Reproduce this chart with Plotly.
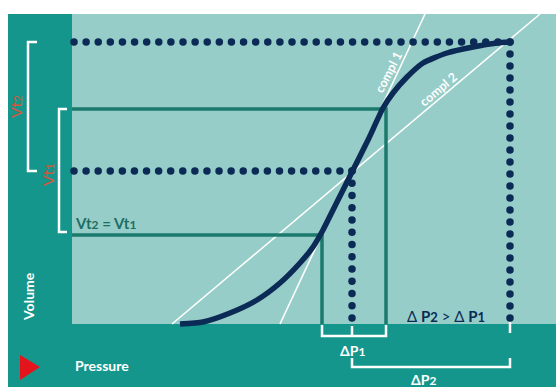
import numpy as np
import plotly.graph_objects as go

# ---- data (Pressure P, Volume V in chart units) ----
curve_p = [108, 131, 158, 185, 208, 228, 241, 251, 265, 280, 296, 311, 321, 335, 351, 375, 401, 425, 438]
curve_v = [0, 2, 11, 24, 41, 61, 77, 94, 122, 152, 184, 216, 231, 247, 261, 271, 277, 281, 282]

# Vt1: solid guides (pressure at each volume level)
vt1_p = [250, 314]
vt1_v = [89, 215]
# Vt2: dotted guides
vt2_p = [280, 438]
vt2_v = [153, 282]

# compliance (tangent) lines
compl1_p = [208, 353]
compl1_v = [0, 310]
compl2_p = [100, 468]
compl2_v = [0, 310]

X_RANGE = [-72, 484]
Y_RANGE = [-63, 324]
PANEL_TOP = 310

NAVY = "#0b2a55"
GREEN = "#1b7a6c"
LIGHT = "#96cdc8"
DARK = "#14968c"
RED = "#e3141b"
ORANGE = "#d4563a"
FONT = "Lato"

fig = go.Figure()


def dots(p0, v0, p1, v1, step=12.1):
    n = int(round(np.hypot(p1 - p0, v1 - v0) / step)) + 1
    return np.linspace(p0, p1, n), np.linspace(v0, v1, n)


# tangent lines
for xs, ys in [(compl1_p, compl1_v), (compl2_p, compl2_v)]:
    fig.add_trace(go.Scatter(x=xs, y=ys, mode="lines",
                             line=dict(color="white", width=1.6)))

# solid Vt1 guides
for p, v in zip(vt1_p, vt1_v):
    fig.add_trace(go.Scatter(x=[0, p, p], y=[v, v, 0], mode="lines",
                             line=dict(color=GREEN, width=3.5)))

# dotted Vt2 guides
for p, v in zip(vt2_p, vt2_v):
    hx, hy = dots(2, v, p, v)
    vx, vy = dots(p, v, p, 6)
    fig.add_trace(go.Scatter(x=np.concatenate([hx, vx]), y=np.concatenate([hy, vy]),
                             mode="markers", marker=dict(color=NAVY, size=7.5)))

# pressure-volume curve
fig.add_trace(go.Scatter(x=curve_p, y=curve_v, mode="lines",
                         line=dict(color=NAVY, width=5.5, shape="spline", smoothing=0.6)))

# brackets (white)
W = dict(color="white", width=2.5)
brackets = [
    ([-35, -44, -44, -35], [vt2_v[1], vt2_v[1], vt2_v[0], vt2_v[0]]),
    ([-5, -13, -13, -5], [vt1_v[1], vt1_v[1], vt1_v[0] + 3, vt1_v[0] + 3]),
    ([vt1_p[0], vt1_p[0], vt1_p[1], vt1_p[1]], [-1, -12, -12, -1]),
    ([vt2_p[0], vt2_p[0]], [-2, -12]),
    ([vt2_p[0], vt2_p[0], vt2_p[1], vt2_p[1]], [-34, -43, -43, -34]),
    ([vt2_p[1], vt2_p[1]], [2, -9]),
]
for xs, ys in brackets:
    fig.add_trace(go.Scatter(x=xs, y=ys, mode="lines", line=W))

shapes = [
    dict(type="rect", x0=-64, x1=X_RANGE[1], y0=Y_RANGE[0], y1=PANEL_TOP,
         fillcolor=DARK, line_width=0, layer="below"),
    dict(type="rect", x0=0, x1=X_RANGE[1], y0=0, y1=PANEL_TOP,
         fillcolor=LIGHT, line_width=0, layer="below"),
    dict(type="path", path="M -52,-31 L -32,-43 L -52,-56 Z",
         fillcolor=RED, line_width=0, layer="above"),
]


def sm(t, s):
    return f"<span style='font-size:{s}px'>{t}</span>"


ann = [
    dict(x=-57, y=217, text="Vt" + sm("2", 12), textangle=-90, font=dict(color=ORANGE, size=16)),
    dict(x=-25, y=149, text="Vt" + sm("1", 12), textangle=-90, font=dict(color=ORANGE, size=16)),
    dict(x=-44, y=27, text="<b>Volume</b>", textangle=-90, font=dict(color="white", size=14)),
    dict(x=1, y=-41, text="<b>Pressure</b>", xanchor="left", font=dict(color="white", size=14)),
    dict(x=1, y=101, text="<b>Vt" + sm("2", 12) + " = Vt" + sm("1", 12) + "</b>", xanchor="left",
         font=dict(color="#1d6e62", size=15)),
    dict(x=374, y=8, text="Δ <b>P</b>" + sm("<b>2</b>", 13) + " > Δ <b>P</b>" + sm("<b>1</b>", 13),
         font=dict(color=NAVY, size=15)),
    dict(x=280, y=-26, text="<b>ΔP</b>" + sm("<b>1</b>", 12), font=dict(color="white", size=14)),
    dict(x=351, y=-55, text="<b>ΔP</b>" + sm("<b>2</b>", 12), font=dict(color="white", size=14)),
    dict(x=316, y=252, text="<b>compl 1</b>", textangle=-63, font=dict(color="white", size=12.5)),
    dict(x=366, y=235, text="<b>compl 2</b>", textangle=-40, font=dict(color="white", size=12.5)),
]
for a in ann:
    a.setdefault("showarrow", False)
    a["font"]["family"] = FONT

fig.update_layout(
    width=556, height=387,
    margin=dict(l=0, r=0, t=0, b=0),
    paper_bgcolor="white", plot_bgcolor="white",
    showlegend=False, hovermode=False,
    xaxis=dict(range=X_RANGE, visible=False, fixedrange=True),
    yaxis=dict(range=Y_RANGE, visible=False, fixedrange=True),
    shapes=shapes, annotations=ann,
)

fig.write_html("out.html", config={"displayModeBar": False},
               post_script="document.body.style.margin='0';document.body.style.overflow='hidden';")
